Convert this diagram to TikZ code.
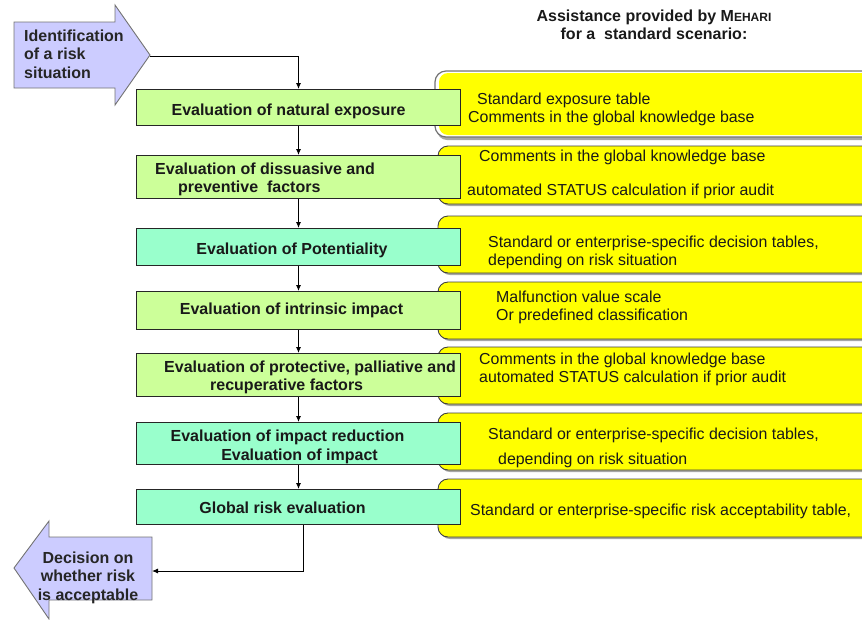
\documentclass[tikz,border=0pt]{standalone}
\usepackage{fontspec}
\setmainfont{Liberation Sans}
\usetikzlibrary{arrows.meta}

\definecolor{stepgreen}{HTML}{CCFF99}
\definecolor{stepmint}{HTML}{99FFCC}
\definecolor{endlav}{HTML}{CCCCFF}
\definecolor{helpyellow}{HTML}{FFFF00}

\newcommand\boldsz{\fontsize{16}{18.5}\selectfont\bfseries}
\newcommand\plainsz{\fontsize{15.9}{18.5}\selectfont}

\tikzset{
  evalbox/.style={draw=black!85, line width=1pt, anchor=north west,
    minimum width=324pt, inner sep=0pt},
  greenbox/.style={evalbox, fill=stepgreen},
  mintbox/.style={evalbox, fill=stepmint},
  steptext/.style={anchor=base, inner sep=0pt, font=\boldsz, text=black!90},
  helptext/.style={anchor=base west, inner sep=0pt, font=\plainsz, text=black!90},
  endtext/.style={anchor=base, inner sep=0pt, font=\boldsz, text=black!85},
  endarrow/.style={draw=black!55, line width=0.9pt, fill=endlav},
  helpbox/.style={draw=black!75, line width=0.9pt, fill=helpyellow, rounded corners=10pt},
  helpshadow/.style={fill=black!35, rounded corners=10pt},
  flow/.style={draw=black, line width=0.9pt, -{Latex[length=6pt,width=5pt]}}
}

% one yellow assistance band, open to the right
\newcommand\helpband[2]{%
  \fill[helpshadow] (440,#1+2) -- (880,#1+2) -- (880,#2+2) -- (440,#2+2) -- cycle;
  \path[helpbox] (880,#1) -- (438,#1) -- (438,#2) -- (880,#2);
}

\begin{document}
\begin{tikzpicture}[x=1pt,y=-1pt]
\useasboundingbox (0,0) rectangle (862,619);
\clip (0,0) rectangle (862,619);

% heading of the assistance column
\node[anchor=base, inner sep=0pt, font=\boldsz, text=black!90] (head1) at (654,21)
  {Assistance provided by M{\fontsize{12}{14}\selectfont EHARI}};
\node[anchor=base, inner sep=0pt, font=\boldsz, text=black!90] (head2) at (654,39.5)
  {for a\ \ standard scenario:};

% assistance bands
\fill[black!35, rounded corners=10pt] (437,73) -- (880,73) -- (880,140) -- (437,140) -- cycle;
\path[draw=black!55, line width=1.2pt, fill=white, rounded corners=11pt]
  (880,71) -- (435,71) -- (435,137) -- (880,137);
\path[fill=helpyellow, rounded corners=9pt]
  (880,73) -- (439,73) -- (439,135) -- (880,135) -- cycle;
\helpband{146}{204}
\helpband{216}{273}
\helpband{282}{339}
\helpband{347}{404}
\helpband{413}{470}
\helpband{479}{537}

\node[helptext] (h1a) at (477,104) {Standard exposure table};
\node[helptext] (h1b) at (468,122.5) {Comments in the global knowledge base};
\node[helptext] (h2a) at (479,161) {Comments in the global knowledge base};
\node[helptext] (h2b) at (467,195) {automated STATUS calculation if prior audit};
\node[helptext] (h3a) at (488,247) {Standard or enterprise-specific decision tables,};
\node[helptext] (h3b) at (488,265) {depending on risk situation};
\node[helptext] (h4a) at (496,302) {Malfunction value scale};
\node[helptext] (h4b) at (496,320) {Or predefined classification};
\node[helptext] (h5a) at (479,364) {Comments in the global knowledge base};
\node[helptext] (h5b) at (479,382) {automated STATUS calculation if prior audit};
\node[helptext] (h6a) at (488,439) {Standard or enterprise-specific decision tables,};
\node[helptext] (h6b) at (498,464) {depending on risk situation};
\node[helptext] (h7a) at (470,515) {Standard or enterprise-specific risk acceptability table,};

% evaluation steps
\node[greenbox, minimum height=36pt] (b1) at (136,89) {};
\node[greenbox, minimum height=43pt] (b2) at (136,155) {};
\node[mintbox,  minimum height=37pt] (b3) at (136,228) {};
\node[greenbox, minimum height=38pt] (b4) at (136,291) {};
\node[greenbox, minimum height=43pt] (b5) at (136,353) {};
\node[mintbox,  minimum height=42pt] (b6) at (136,422) {};
\node[mintbox,  minimum height=35pt] (b7) at (136,489) {};

\node[steptext] (t1) at (288.5,115) {Evaluation of natural exposure};
\node[steptext, anchor=base west] (t2a) at (155,174) {Evaluation of dissuasive and};
\node[steptext, anchor=base west] (t2b) at (178,192) {preventive\ \ factors};
\node[steptext] (t3) at (292,254) {Evaluation of Potentiality};
\node[steptext] (t4) at (291.5,314) {Evaluation of intrinsic impact};
\node[steptext, anchor=base west] (t5a) at (164,372) {Evaluation of protective, palliative and};
\node[steptext, anchor=base west] (t5b) at (210,390) {recuperative factors};
\node[steptext] (t6a) at (287.5,441) {Evaluation of impact reduction};
\node[steptext] (t6b) at (299.5,460) {Evaluation of impact};
\node[steptext] (t7) at (282.5,513) {Global risk evaluation};

% entry and exit arrows
\path[endarrow] (14,22) -- (115,22) -- (115,5) -- (150,55) -- (115,105)
  -- (115,88) -- (14,88) -- cycle;
\coordinate (idtip) at (150,56);
\node[endtext, anchor=base west] (id1) at (24,41) {Identification};
\node[endtext, anchor=base west] (id2) at (24,59.5) {of a risk};
\node[endtext, anchor=base west] (id3) at (24,78) {situation};

\path[endarrow] (152,537) -- (49,537) -- (49,521) -- (14,568) -- (49,619)
  -- (49,600) -- (152,600) -- cycle;
\coordinate (decin) at (152,571);
\node[endtext] (d1) at (88,563) {Decision on};
\node[endtext] (d2) at (88,581.5) {whether risk};
\node[endtext] (d3) at (88,600) {is acceptable};

% flow connectors
\draw[flow] (idtip) -| (b1.north);
\draw[flow] (b1.south) -- (b2.north);
\draw[flow] (b2.south) -- (b3.north);
\draw[flow] (b3.south) -- (b4.north);
\draw[flow] (b4.south) -- (b5.north);
\draw[flow] (b5.south) -- (b6.north);
\draw[flow] (b6.south) -- (b7.north);
\draw[flow] ([xshift=5pt]b7.south) |- (decin);
\end{tikzpicture}
\end{document}
